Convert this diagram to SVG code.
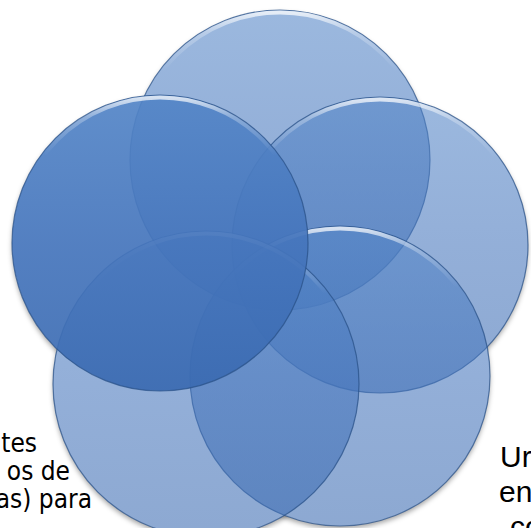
<svg xmlns="http://www.w3.org/2000/svg" width="531" height="528" viewBox="0 0 531 528">
<style>
.c{fill:url(#g);fill-opacity:.58;stroke:#2a5288;stroke-opacity:.75;stroke-width:1.2}
.front{fill-opacity:.92}
.hl{fill:none;stroke:url(#h);stroke-width:4}
.l{font-family:"DejaVu Sans Condensed","Liberation Sans",sans-serif;font-size:26px;fill:#000;text-anchor:end}
.r{font-family:"Liberation Sans",Arial,sans-serif;font-size:30px;fill:#000}
</style>
<defs>
<linearGradient id="g" x1="0" y1="0" x2="0" y2="1">
<stop offset="0" stop-color="#5385c7"/>
<stop offset="0.5" stop-color="#4575bc"/>
<stop offset="1" stop-color="#3a6ab1"/>
</linearGradient>
<linearGradient id="h" x1="0" y1="0" x2="0" y2="1">
<stop offset="0" stop-color="#ffffff" stop-opacity=".75"/>
<stop offset="0.07" stop-color="#ffffff" stop-opacity=".3"/>
<stop offset="0.2" stop-color="#ffffff" stop-opacity="0"/>
</linearGradient>
<filter id="blur" x="-20%" y="-20%" width="140%" height="140%">
<feGaussianBlur stdDeviation="2.5"/>
</filter>
<mask id="outside" maskUnits="userSpaceOnUse" x="0" y="0" width="531" height="528">
<rect width="531" height="528" fill="#fff"/>
<circle cx="280" cy="160" r="150"/>
<circle cx="380" cy="245" r="148"/>
<circle cx="340" cy="376" r="150"/>
<circle cx="206" cy="384" r="153"/>
<circle cx="160" cy="243" r="148"/>
</mask>
</defs>
<rect width="531" height="528" fill="#fff"/>
<g id="shadow" mask="url(#outside)">
<g filter="url(#blur)" fill="#000" fill-opacity=".35" transform="translate(0 3)">
<circle cx="280" cy="160" r="150"/>
<circle cx="380" cy="245" r="148"/>
<circle cx="340" cy="376" r="150"/>
<circle cx="206" cy="384" r="153"/>
<circle cx="160" cy="243" r="148"/>
</g>
</g>
<g id="circle-top">
<circle class="c" cx="280" cy="160" r="150"/>
<circle class="hl" cx="280" cy="160" r="147.5"/>
</g>
<g id="circle-upper-right">
<circle class="c" cx="380" cy="245" r="148"/>
<circle class="hl" cx="380" cy="245" r="145.5"/>
</g>
<g id="circle-lower-right">
<circle class="c" cx="340" cy="376" r="150"/>
<circle class="hl" cx="340" cy="376" r="147.5"/>
</g>
<g id="circle-lower-left">
<circle class="c" cx="206" cy="384" r="153"/>
<circle class="hl" cx="206" cy="384" r="150.5"/>
</g>
<g id="circle-upper-left">
<circle class="c front" cx="160" cy="243" r="148"/>
<circle class="hl" cx="160" cy="243" r="145.5"/>
</g>
<g id="text-left">
<text class="l" x="37" y="452">tes</text>
<text class="l" x="70" y="480">os de</text>
<text class="l" x="92" y="508">as) para</text>
</g>
<g id="text-right">
<text class="r" x="500" y="467">Ur</text>
<text class="r" x="499" y="502">en</text>
<text class="r" x="510" y="537">co</text>
</g>
</svg>
